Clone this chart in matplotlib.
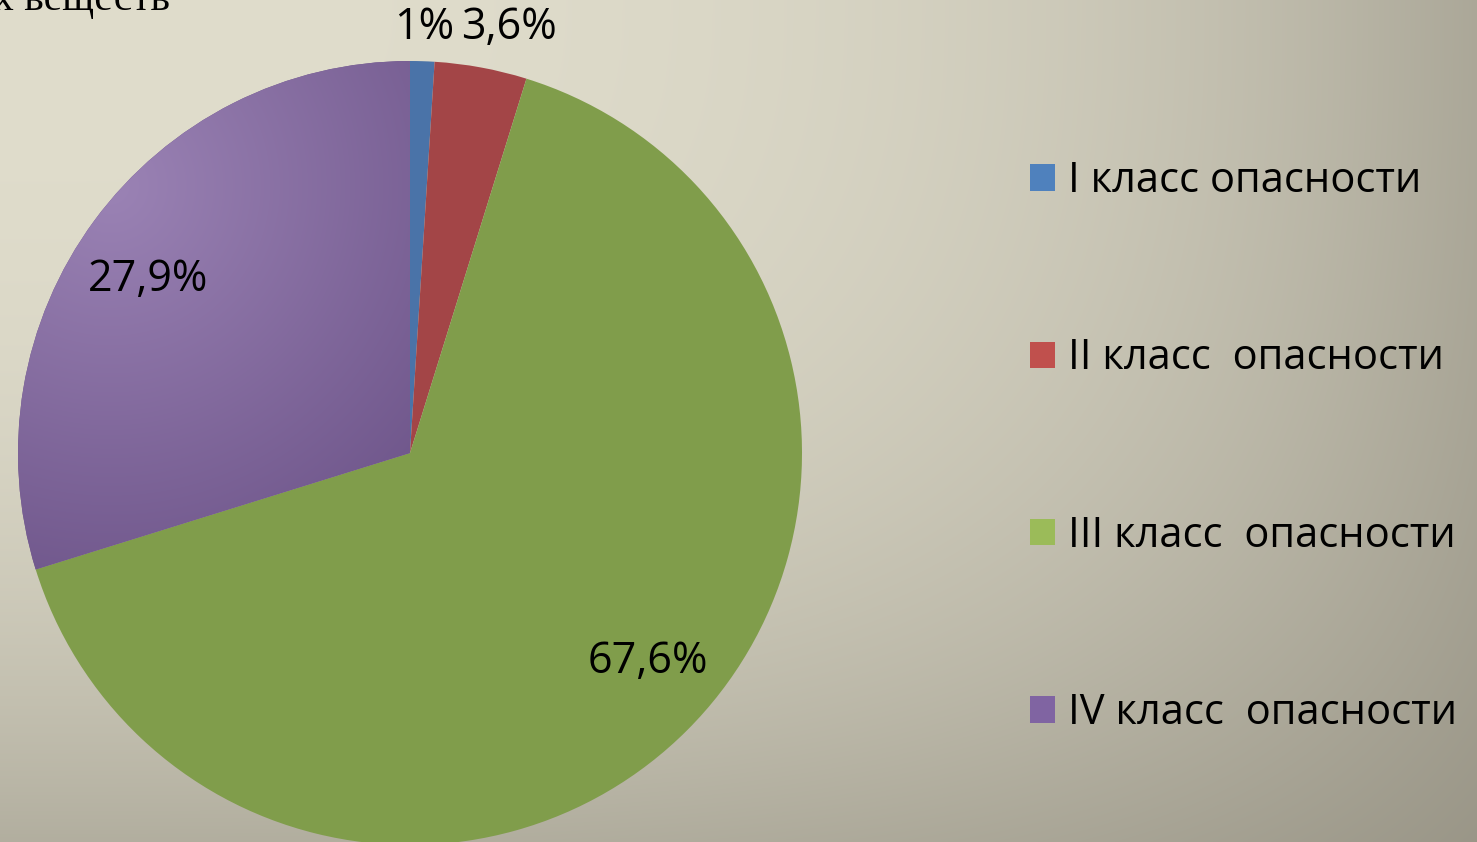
import numpy as np
import matplotlib.pyplot as plt
from matplotlib.colors import to_rgb
from matplotlib.patches import Patch

plt.rcParams['font.family'] = ['Open Sans', 'DejaVu Sans']

# data
classes = ['I класс опасности', 'II класс  опасности',
           'III класс  опасности', 'IV класс  опасности']
# slice sizes as drawn in the picture, and the percentages printed on it
shares = [1.0, 3.8, 65.4, 29.8]
label_values = [1, 3.6, 67.6, 27.9]
slice_colors = ['#4A73A8', '#A34547', '#809D4B', '#6F5689']
legend_colors = ['#4F81BD', '#C0504D', '#9BBB59', '#8064A2']

W, H = 1477, 842
fig = plt.figure(figsize=(W / 100, H / 100), dpi=100)
ax = fig.add_axes([0, 0, 1, 1])

# background gradient, light top-left -> dark bottom-right
yy, xx = np.mgrid[0:H, 0:W]
u, v = xx / W, yy / H
f = 1 - (1 - 0.63 * u ** 3.0) * (1 - 0.55 * v ** 2.5)
light, dark = np.array(to_rgb('#E0DDCC')), np.array(to_rgb('#8C887A'))
ax.imshow(light + (dark - light) * f[..., None], extent=(0, W, 0, H),
          origin='upper', zorder=0)

# pie
wedges, _ = ax.pie(shares, colors=slice_colors, startangle=90, counterclock=False,
                   center=(410, H - 453), radius=392,
                   wedgeprops=dict(linewidth=0))
for w in wedges:
    w.set_zorder(2)

# shading on the purple slice
dist = np.sqrt((xx - 110) ** 2 + (yy - 185) ** 2)
t = np.clip(dist / 470, 0, 1)
p_light, p_dark = np.array(to_rgb('#9B83B5')), np.array(to_rgb('#6A5186'))
im = ax.imshow(p_light + (p_dark - p_light) * t[..., None], extent=(0, W, 0, H),
               origin='upper', zorder=3)
im.set_clip_path(wedges[3])

# data labels
def fmt(val):
    return f"{val:g}".replace('.', ',') + '%'

label_pos = [(424, 28), (509, 28), (648, 662), (148, 280)]
for val, (x, y) in zip(label_values, label_pos):
    ax.text(x, H - y, fmt(val), fontsize=31, ha='center', va='center', zorder=5)

# cut-off title
ax.text(-7, H - 10, 'х веществ', family='Liberation Serif', fontsize=30,
        ha='left', va='baseline', zorder=5)

handles = [Patch(facecolor=c, edgecolor='none') for c in legend_colors]
ax.legend(handles, classes, loc='upper left', bbox_to_anchor=(1030 / W, 1 - 160 / H),
          frameon=False, fontsize=30, handlelength=0.6, handleheight=0.6,
          handletextpad=0.3, labelspacing=3.25, borderaxespad=0, borderpad=0)

ax.set_xlim(0, W)
ax.set_ylim(0, H)
ax.axis('off')

fig.savefig('out.png', dpi=100)
